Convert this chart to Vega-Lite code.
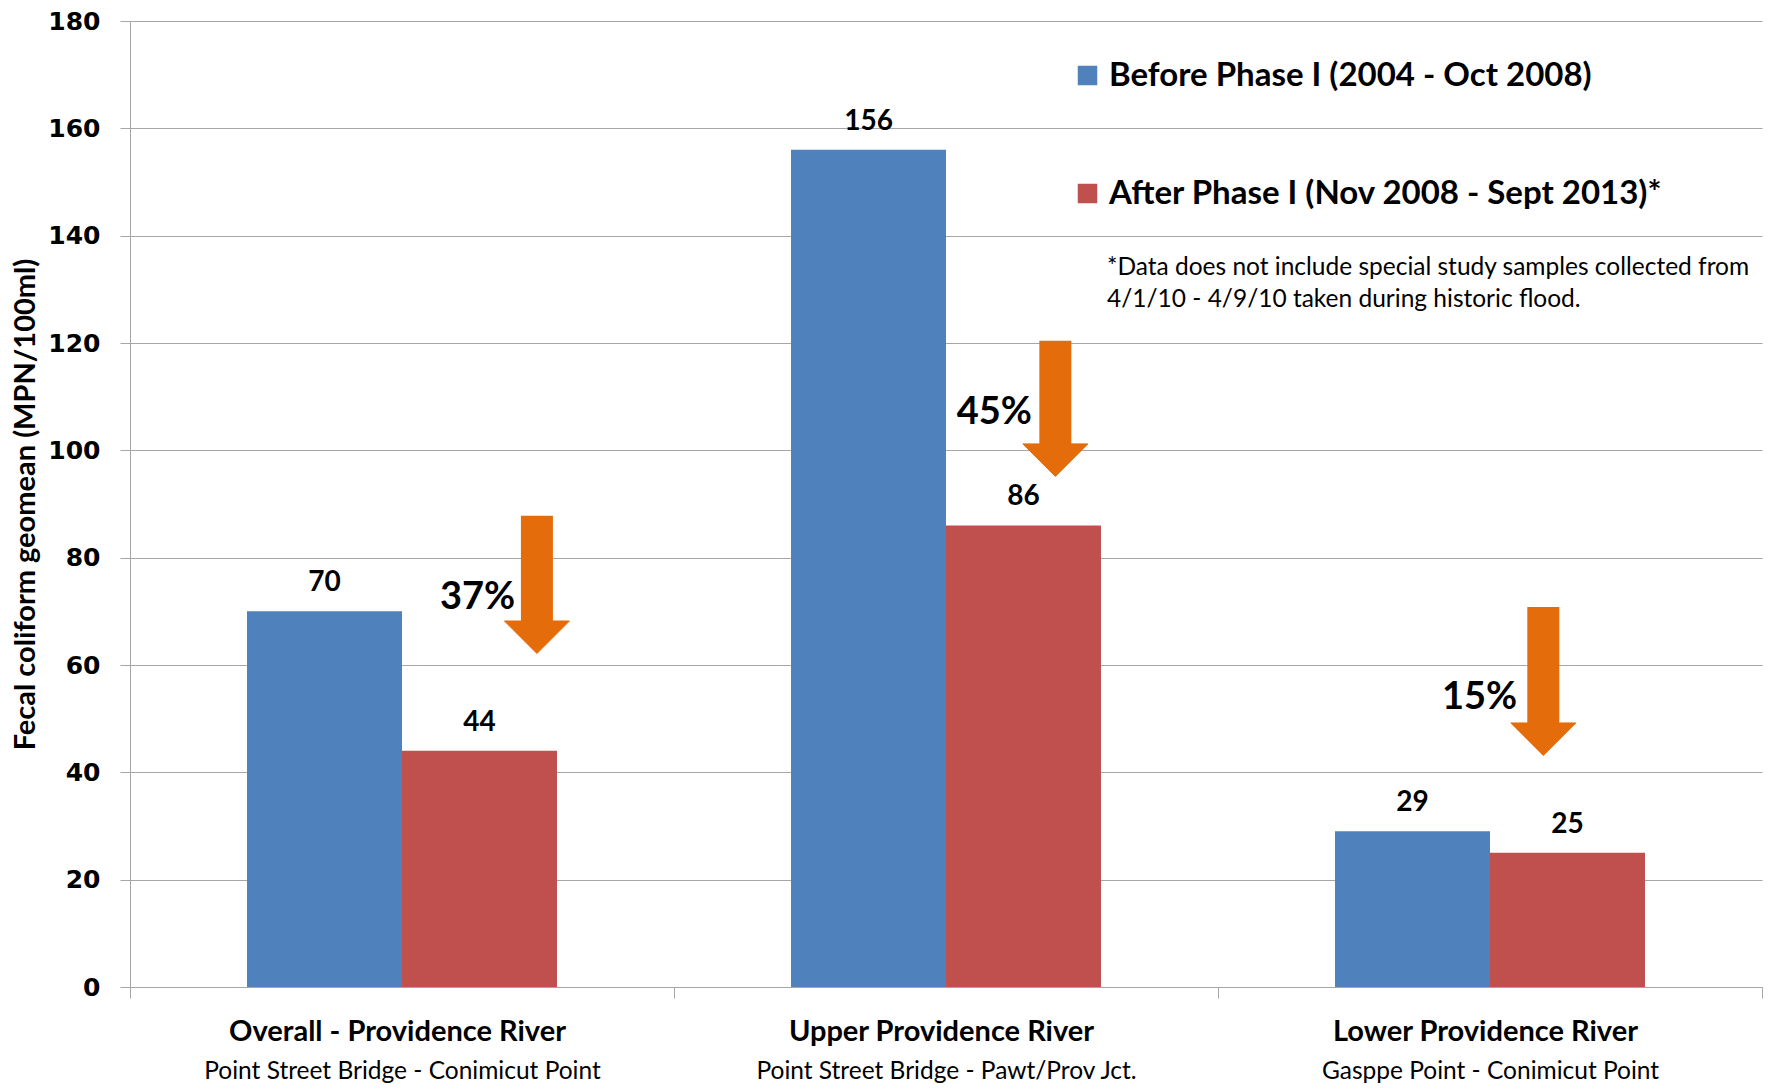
{
  "$schema": "https://vega.github.io/schema/vega-lite/v6.json",
  "width": 1632,
  "height": 966,
  "autosize": {"type": "none"},
  "padding": {"left": 130, "top": 21, "right": 19, "bottom": 101},
  "background": "white",
  "config": {"view": {"stroke": null}, "font": "Lato"},
  "datasets": {
    "bars": [
      {"region": "Overall - Providence River", "phase": "Before Phase I (2004 - Oct 2008)", "value": 70},
      {"region": "Overall - Providence River", "phase": "After Phase I (Nov 2008 - Sept 2013)*", "value": 44},
      {"region": "Upper Providence River", "phase": "Before Phase I (2004 - Oct 2008)", "value": 156},
      {"region": "Upper Providence River", "phase": "After Phase I (Nov 2008 - Sept 2013)*", "value": 86},
      {"region": "Lower Providence River", "phase": "Before Phase I (2004 - Oct 2008)", "value": 29},
      {"region": "Lower Providence River", "phase": "After Phase I (Nov 2008 - Sept 2013)*", "value": 25}
    ],
    "subs": [
      {"sub": "Point Street Bridge - Conimicut Point"},
      {"sub": "Point Street Bridge - Pawt/Prov Jct."},
      {"sub": "Gasppe Point - Conimicut Point"}
    ],
    "arrows": [
      {"ax": 0.748, "top": 87.8, "head": 68.2, "tx": 0.708, "ty": 72.5, "pct": "37%"},
      {"ax": 1.701, "top": 120.4, "head": 101.2, "tx": 1.658, "ty": 107.0, "pct": "45%"},
      {"ax": 2.598, "top": 70.8, "head": 49.2, "tx": 2.55, "ty": 53.9, "pct": "15%"}
    ]
  },
  "layer": [
    {
      "data": {"name": "bars"},
      "encoding": {
        "x": {
          "field": "region", "type": "nominal",
          "sort": ["Overall - Providence River", "Upper Providence River", "Lower Providence River"],
          "scale": {"paddingInner": 0, "paddingOuter": 0},
          "axis": {
            "orient": "bottom",
            "title": null, "labelFont": "Lato", "labelFontWeight": "bold", "labelFontSize": 29,
            "labelColor": "black", "labelPadding": 19, "labelOffset": -5, "labelAngle": 0, "labelLimit": 800,
            "tickBand": "extent", "tickSize": 11, "tickColor": "#A6A6A6", "domainColor": "#A6A6A6", "grid": false
          }
        },
        "xOffset": {
          "field": "phase", "type": "nominal",
          "sort": ["Before Phase I (2004 - Oct 2008)", "After Phase I (Nov 2008 - Sept 2013)*"],
          "scale": {"paddingInner": 0, "paddingOuter": 0.755}
        },
        "y": {
          "field": "value", "type": "quantitative",
          "scale": {"domain": [0, 180], "nice": false},
          "axis": {
            "title": "Fecal coliform geomean (MPN/100ml)", "titleFont": "Lato", "titleFontSize": 29,
            "titleFontWeight": "bold", "titleColor": "black", "titleX": -105, "titleY": 483,
            "titleAngle": -90, "titleBaseline": "middle", "titleAlign": "center",
            "labelFont": "DejaVu Sans", "labelFontWeight": "bold", "labelFontSize": 25,
            "labelColor": "black", "labelPadding": 20, "tickSize": 10, "tickColor": "#A6A6A6",
            "domainColor": "#A6A6A6", "gridColor": "#A6A6A6",
            "values": [0, 20, 40, 60, 80, 100, 120, 140, 160, 180]
          }
        }
      },
      "layer": [
        {
          "mark": {"type": "bar"},
          "encoding": {
            "color": {
              "field": "phase", "type": "nominal",
              "scale": {
                "domain": ["Before Phase I (2004 - Oct 2008)", "After Phase I (Nov 2008 - Sept 2013)*"],
                "range": ["#4F81BD", "#C0504D"]
              },
              "legend": {
                "orient": "none", "legendX": 941, "legendY": 38,
                "title": ["*Data does not include special study samples collected from", "4/1/10 - 4/9/10 taken during historic flood."],
                "titleOrient": "bottom", "titleFont": "Lato", "titleFontSize": 24.5, "titleFontWeight": "normal",
                "titleColor": "black", "titleLineHeight": 32, "titlePadding": 45, "titleLimit": 900,
                "titleAnchor": "start", "titleAlign": "left",
                "labelFont": "Lato", "labelFontSize": 33, "labelFontWeight": "bold", "labelColor": "black",
                "labelLimit": 900, "labelOffset": 5,
                "symbolType": "square", "symbolSize": 380, "symbolStrokeWidth": 0, "symbolOpacity": 1,
                "rowPadding": 84, "padding": 0, "offset": 0,
                "encode": {"title": {"update": {"dx": {"value": 36}}}}
              }
            }
          }
        },
        {
          "mark": {"type": "text", "baseline": "middle", "dy": -28, "font": "Lato", "fontSize": 28, "fontWeight": "bold", "color": "black"},
          "encoding": {"text": {"field": "value", "type": "quantitative"}}
        }
      ]
    },
    {
      "data": {"name": "subs"},
      "mark": {"type": "text", "text": ""},
      "encoding": {
        "x": {
          "field": "sub", "type": "nominal", "sort": null,
          "scale": {"paddingInner": 0, "paddingOuter": 0},
          "axis": {
            "orient": "bottom",
            "title": null, "domain": false, "ticks": false, "tickSize": 0, "grid": false,
            "labelFont": "Lato", "labelFontSize": 24.5, "labelColor": "black", "labelPadding": 72,
            "labelAngle": 0, "labelLimit": 800
          }
        },
        "y": {"datum": 0, "type": "quantitative"}
      }
    },
    {
      "data": {"name": "arrows"},
      "encoding": {
        "x": {"field": "ax", "type": "quantitative", "scale": {"domain": [0, 3], "nice": false, "zero": false}, "axis": null}
      },
      "layer": [
        {
          "mark": {"type": "rule", "color": "#E46C0A", "strokeWidth": 32, "strokeCap": "butt"},
          "encoding": {
            "y": {"field": "top", "type": "quantitative"},
            "y2": {"field": "head"}
          }
        },
        {
          "mark": {"type": "point", "shape": "M-1,0L1,0L0,1Z", "filled": true, "size": 4225, "color": "#E46C0A", "opacity": 1, "stroke": "#E46C0A", "strokeWidth": 1},
          "encoding": {"y": {"field": "head", "type": "quantitative"}}
        },
        {
          "mark": {"type": "text", "align": "right", "baseline": "middle", "font": "Lato", "fontSize": 38, "fontWeight": "bold", "color": "black"},
          "encoding": {
            "x": {"field": "tx", "type": "quantitative"},
            "y": {"field": "ty", "type": "quantitative"},
            "text": {"field": "pct"}
          }
        }
      ]
    }
  ],
  "resolve": {"scale": {"x": "independent"}, "axis": {"x": "independent"}}
}
